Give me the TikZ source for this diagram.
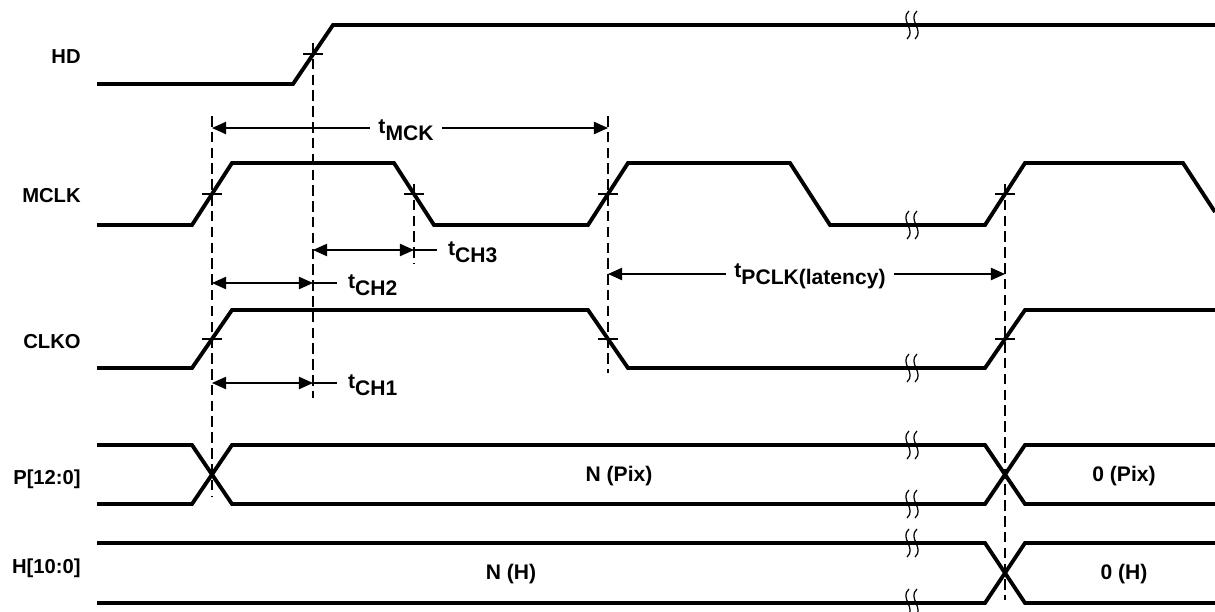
\documentclass[tikz,border=0pt]{standalone}
\usepackage{fontspec}
\setmainfont{Liberation Sans}
\usetikzlibrary{arrows.meta}

\tikzset{
  sig/.style={line width=2.2pt, line join=miter},
  guide/.style={line width=0.7pt, dash pattern=on 6pt off 3pt},
  thin/.style={line width=0.7pt},
  dim/.style={line width=0.7pt, {Triangle[length=8pt,width=7pt]}-{Triangle[length=8pt,width=7pt]}},
  lbl/.style={font=\fontsize{11.5}{13}\selectfont\bfseries, anchor=east, inner sep=0pt},
  tlbl/.style={font=\fontsize{12}{14}\selectfont\bfseries, inner sep=1pt},
}
\newcommand{\tname}[1]{t\raisebox{-4pt}{#1}}
\newcommand{\gapmark}[2]{%
  \foreach \dx in {-4,4} {
    \draw[thin] ({#1+\dx+1},{#2-14}) .. controls ({#1+\dx-9},{#2-5}) and ({#1+\dx+9},{#2+5}) .. ({#1+\dx-1},{#2+14});
  }}
\newcommand{\tick}[2]{\draw[thin] ({#1-10},#2) -- ({#1+10},#2);}

\begin{document}
\begin{tikzpicture}[x=0.02cm, y=-0.02cm]
        \useasboundingbox (0,0) rectangle (1215,612);

        % Names
        \node[lbl] (HD) at (81,57) {HD};
        \node[lbl] (MCLK) at (81,196) {MCLK};
        \node[lbl] (CLKO) at (81,342) {CLKO};
        \node[lbl] (P) at (81,479) {P[12:0]};
        \node[lbl] (H) at (81,568) {H[10:0]};

        % Waves
        \draw[sig] (97,84) -- (293,84) -- (333,25) -- (1215,25);
        \draw[sig] (97,225) -- (192,225) -- (232,163) -- (394,163) -- (434,225)
                   -- (588,225) -- (628,163) -- (790,163) -- (830,225)
                   -- (985,225) -- (1025,163) -- (1183,163) -- (1215,212);
        \draw[sig] (97,368) -- (192,368) -- (232,310) -- (588,310) -- (628,368)
                   -- (985,368) -- (1025,310) -- (1215,310);
        \draw[sig] (97,445) -- (192,445) -- (232,504) -- (985,504) -- (1025,445) -- (1215,445);
        \draw[sig] (97,504) -- (192,504) -- (232,445) -- (985,445) -- (1025,504) -- (1215,504);
        \draw[sig] (97,543) -- (985,543) -- (1025,603) -- (1215,603);
        \draw[sig] (97,603) -- (985,603) -- (1025,543) -- (1215,543);

        % Breaks
        \foreach \y in {25,225,368,445,504,543,603} {\gapmark{912}{\y}}

        % Guides
        \draw[guide] (212,116) -- (212,496);
        \draw[guide] (313,43) -- (313,398);
        \draw[guide] (414,184) -- (414,264);
        \draw[guide] (608,116) -- (608,373);
        \draw[guide] (1005,184) -- (1005,600);
        \tick{313}{54}
        \foreach \x in {212,414,608,1005} {\tick{\x}{194}}
        \foreach \x in {212,608,1005} {\tick{\x}{339}}

        % Arrows
        \coordinate (mck1) at (212,128);
        \coordinate (mck2) at (608,128);
        \coordinate (ch31) at (313,250);
        \coordinate (ch32) at (414,250);
        \coordinate (ch21) at (212,283);
        \coordinate (ch22) at (313,283);
        \coordinate (pl1) at (608,274);
        \coordinate (pl2) at (1005,274);
        \coordinate (ch11) at (212,383);
        \coordinate (ch12) at (313,383);
        \draw[dim] (mck1) -- (mck2);
        \draw[dim] (ch31) -- (ch32);
        \draw[thin] (ch32) -- ++(23,0);
        \draw[dim] (ch21) -- (ch22);
        \draw[thin] (ch22) -- ++(24,0);
        \draw[dim] (pl1) -- (pl2);
        \draw[dim] (ch11) -- (ch12);
        \draw[thin] (ch12) -- ++(24,0);

        % Timing labels
        \node[tlbl, fill=white, inner xsep=5pt] (tMCK) at (406,130) {\tname{MCK}};
        \node[tlbl, anchor=west] (tCH3) at (446,252) {\tname{CH3}};
        \node[tlbl, anchor=west] (tCH2) at (346,285) {\tname{CH2}};
        \node[tlbl, fill=white, inner xsep=5pt] (tPCLK) at (810,276) {\tname{PCLK(latency)}};
        \node[tlbl, anchor=west] (tCH1) at (346,385) {\tname{CH1}};

        % Values
        \node[tlbl] (NPix) at (619,476) {N (Pix)};
        \node[tlbl] (ZPix) at (1124,476) {0 (Pix)};
        \node[tlbl] (NH) at (511,574) {N (H)};
        \node[tlbl] (ZH) at (1124,574) {0 (H)};
    \end{tikzpicture}
\end{document}
